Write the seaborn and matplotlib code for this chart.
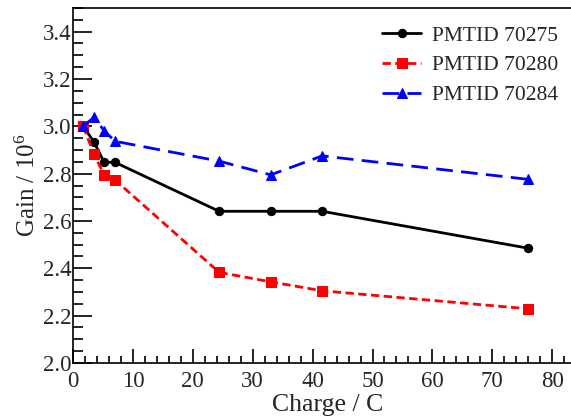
import matplotlib
matplotlib.use("Agg")
import matplotlib.pyplot as plt
import seaborn as sns
import pandas as pd
from matplotlib.ticker import MultipleLocator

charge = [1.7, 3.5, 5.2, 7.0, 24.4, 33.0, 41.6, 76.0]
gain_70275 = [3.00, 2.934, 2.848, 2.848, 2.641, 2.641, 2.641, 2.485]
gain_70280 = [3.00, 2.883, 2.795, 2.774, 2.383, 2.343, 2.305, 2.229]
gain_70284 = [3.00, 3.038, 2.982, 2.937, 2.853, 2.795, 2.875, 2.776]
labels = ["PMTID 70275", "PMTID 70280", "PMTID 70284"]

sns.set_style("ticks")
plt.rcParams["font.family"] = ["Liberation Serif", "DejaVu Serif"]
plt.rcParams["mathtext.fontset"] = "custom"
plt.rcParams["mathtext.rm"] = "Liberation Serif"
plt.rcParams["mathtext.it"] = "Liberation Serif:italic"

W, H = 571, 417
fig = plt.figure(figsize=(W / 100, H / 100), dpi=100)
# axes pixel geometry: x=0 at px 73, 5.99 px per unit; y 2.0 at px 363, 3.5 at px 8
x0, y_bot, y_top = 73, 363, 8
xmax = 85.0
px_per = 5.99
ax = fig.add_axes([x0 / W, (H - y_bot) / H, xmax * px_per / W, (y_bot - y_top) / H])

series = [
    (gain_70275, "black", "o", (None, None), 6, "-"),
    (gain_70280, "#ff0000", "s", (3, 1.6), 6.5, "--"),
    (gain_70284, "#0000ff", "^", (6, 3), 7, "--"),
]
for (vals, col, mk, dash, ms, ls), lab in zip(series, labels):
    df = pd.DataFrame({"Charge": charge, "Gain": vals})
    kw = dict(data=df, x="Charge", y="Gain", ax=ax, color=col, marker=mk,
              markersize=ms, linewidth=2, markeredgecolor=col, label=lab)
    if dash[0] is None:
        sns.lineplot(linestyle="-", **kw)
    else:
        sns.lineplot(dashes=dash, **kw)

ax.set_xlim(0, xmax)
ax.set_ylim(2.0, 3.5)
ax.xaxis.set_major_locator(MultipleLocator(10))
ax.xaxis.set_minor_locator(MultipleLocator(2))
ax.yaxis.set_major_locator(MultipleLocator(0.2))
ax.yaxis.set_minor_locator(MultipleLocator(0.05))
ax.yaxis.set_major_formatter(matplotlib.ticker.FormatStrFormatter("%.1f"))
ax.tick_params(which="both", direction="in", top=False, right=False, labelsize=16.5, width=1.2, color="black")
ax.tick_params(axis="x", which="major", length=10, pad=6)
ax.tick_params(axis="x", which="minor", length=5)
ax.tick_params(axis="y", which="major", length=14, pad=1)
ax.tick_params(axis="y", which="minor", length=7)
for s in ax.spines.values():
    s.set_linewidth(1.2)
    s.set_color("black")
ax.spines["right"].set_visible(False)

ax.set_xlabel("Charge / C", fontsize=18.5, labelpad=1.5)
ax.set_ylabel("Gain / 10$^6$", fontsize=18, labelpad=2)

ax_h = y_bot - y_top
leg = ax.legend(loc="upper left",
                bbox_to_anchor=((373 - x0) / (xmax * px_per), 1.0 - 9 / ax_h),
                frameon=False, fontsize=15.5, handlelength=1.85, handletextpad=0.47,
                labelspacing=0.45, borderaxespad=0.0)

fig.savefig("out.png", dpi=100)
